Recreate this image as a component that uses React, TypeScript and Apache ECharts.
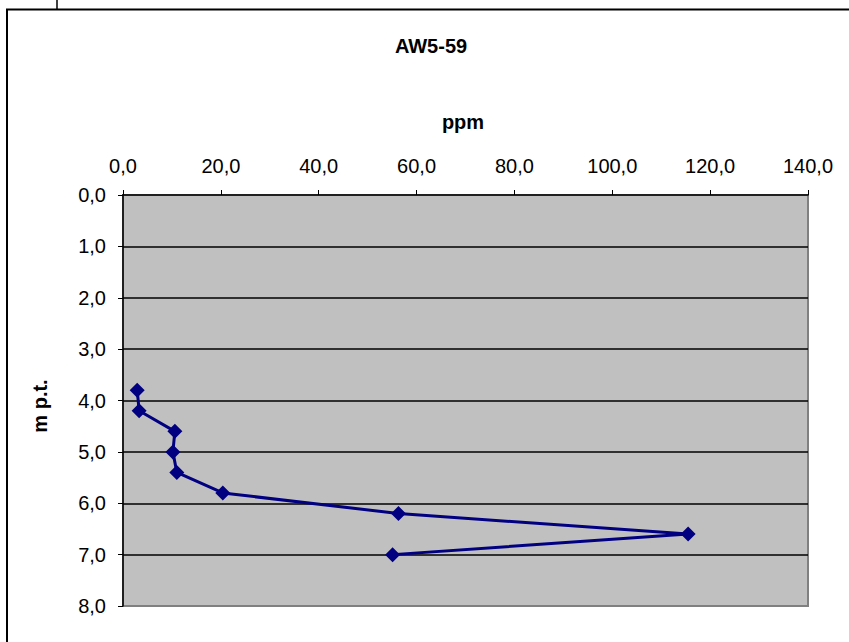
import React, { useEffect, useRef } from "react";
import * as echarts from "echarts";

const chartTitle = "AW5-59";
const xAxisName = "ppm";
const yAxisName = "m p.t.";
const ppmValues = [2.9, 3.3, 10.6, 10.2, 11.0, 20.4, 56.3, 115.5, 55.1];
const depthValues = [3.8, 4.2, 4.6, 5.0, 5.4, 5.8, 6.2, 6.6, 7.0];

const fmt = (v: number) => v.toFixed(1).replace(".", ",");

export default function App() {
  const ref = useRef<HTMLDivElement>(null);
  useEffect(() => {
    if (!ref.current) return;
    const chart = echarts.init(ref.current, undefined, { renderer: "svg" });
    const data = ppmValues.map((x, i) => [x, depthValues[i]]);
    const font = "Arial, 'Liberation Sans', sans-serif";
    const boldText = (text: string, x: number, y: number, rotation = 0) => ({
      type: "text",
      x,
      y,
      rotation,
      style: {
        text,
        fontSize: 20,
        fontWeight: "bold",
        fontFamily: font,
        fill: "#000",
        align: "center",
        verticalAlign: "middle",
      },
    });
    chart.setOption({
      animation: false,
      backgroundColor: "#ffffff",
      textStyle: { fontFamily: font },
      graphic: [
        {
          type: "line",
          shape: { x1: 6, y1: 9.5, x2: 849, y2: 9.5 },
          style: { stroke: "#000", lineWidth: 2 },
        },
        {
          type: "line",
          shape: { x1: 7, y1: 9, x2: 7, y2: 642 },
          style: { stroke: "#000", lineWidth: 2 },
        },
        {
          type: "line",
          shape: { x1: 57, y1: 0, x2: 57, y2: 9 },
          style: { stroke: "#000", lineWidth: 1.5 },
        },
        boldText(chartTitle, 431, 46),
        boldText(xAxisName, 463, 122),
        boldText(yAxisName, 40, 406, Math.PI / 2),
      ],
      grid: {
        left: 123,
        top: 195,
        right: 41,
        bottom: 36,
        show: true,
        backgroundColor: "#c0c0c0",
        borderColor: "#808080",
        borderWidth: 2,
      },
      xAxis: {
        type: "value",
        position: "top",
        min: 0,
        max: 140,
        interval: 20,
        axisLine: { show: true, onZero: false, lineStyle: { color: "#000", width: 1.5 } },
        axisTick: { show: true, inside: false, length: 5, lineStyle: { color: "#000" } },
        axisLabel: { formatter: fmt, fontSize: 20, color: "#000", margin: 19, fontFamily: font },
        splitLine: { show: false },
      },
      yAxis: {
        type: "value",
        inverse: true,
        min: 0,
        max: 8,
        interval: 1,
        axisLine: { show: true, onZero: false, lineStyle: { color: "#000", width: 1.5 } },
        axisTick: { show: true, inside: false, length: 5, lineStyle: { color: "#000" } },
        axisLabel: { formatter: fmt, fontSize: 20, color: "#000", margin: 17, fontFamily: font },
        splitLine: {
          show: true,
          showMinLine: false,
          showMaxLine: false,
          lineStyle: { color: "#000", width: 1.5 },
        },
      },
      series: [
        {
          type: "line",
          data,
          symbol: "diamond",
          symbolSize: 15,
          lineStyle: { color: "#000080", width: 3 },
          itemStyle: { color: "#000080" },
          z: 5,
        },
      ],
    });
    return () => chart.dispose();
  }, []);
  return <div ref={ref} style={{ width: 849, height: 642, position: "absolute", left: 0, top: 0 }} />;
}
